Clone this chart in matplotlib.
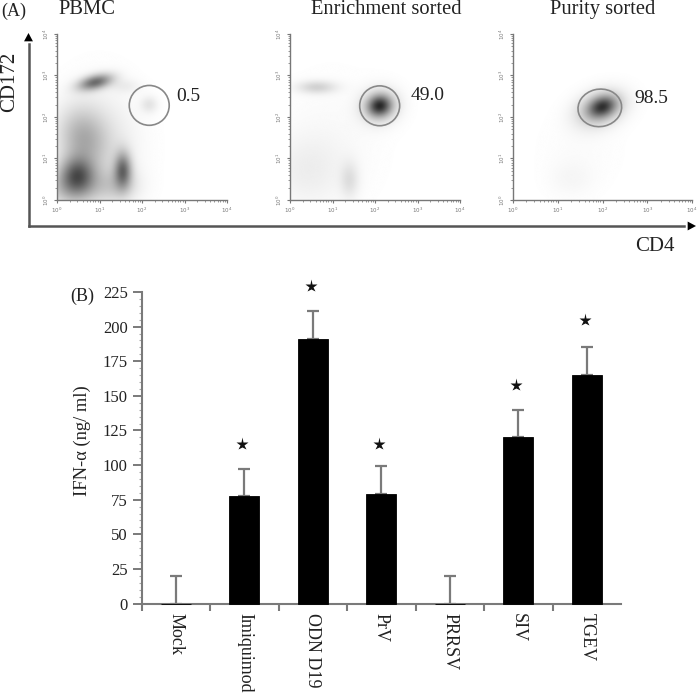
import numpy as np
import matplotlib
matplotlib.use("Agg")
import matplotlib.pyplot as plt
from matplotlib.patches import Ellipse

W, H = 698, 694
plt.rcParams["font.family"] = ["Liberation Serif", "DejaVu Serif"]
GREY = "#7a7a7a"
INK = "#222222"

# bar chart values
categories = ["Mock", "Imiquimod", "ODN D19", "PrV", "PRRSV", "SIV", "TGEV"]
ifn_values = [0, 77.5, 191, 79, 0, 120, 165]
ifn_errors = [20, 20, 20, 20, 20, 20, 20]
star_heights = [None, 115, 229, 115, None, 158, 205]

# flow panels
panel_titles = ["PBMC", "Enrichment sorted", "Purity sorted"]
gate_labels = ["0.5", "49.0", "98.5"]
# populations: x, y (decades), sd x, sd y, tilt, strength
pbmc_blobs = [(0.9, 2.84, 0.28, 0.12, 0.25, 0.55), (0.47, 0.60, 0.28, 0.30, 0, 0.52),
              (1.55, 0.72, 0.14, 0.30, 0, 0.50), (0.60, 1.50, 0.38, 0.50, 0.2, 0.26),
              (0.35, 0.25, 0.45, 0.30, 0, 0.22), (1.40, 0.35, 0.35, 0.28, 0, 0.16),
              (1.00, 1.30, 0.60, 0.90, 0, 0.10), (2.17, 2.30, 0.14, 0.14, 0, 0.10),
              (1.60, 2.75, 0.25, 0.12, 0, 0.06)]
enrich_blobs = [(2.11, 2.27, 0.19, 0.17, 0.3, 0.62), (2.11, 2.27, 0.31, 0.28, 0.3, 0.22),
                (0.63, 2.72, 0.32, 0.11, 0, 0.17), (1.40, 0.48, 0.15, 0.30, 0, 0.11),
                (0.40, 0.70, 0.60, 0.60, 0, 0.06), (1.00, 1.50, 0.80, 1.00, 0, 0.02)]
purity_blobs = [(2.00, 2.25, 0.22, 0.16, 0.45, 0.52), (1.95, 2.20, 0.38, 0.27, 0.45, 0.30),
                (1.30, 0.50, 0.35, 0.30, 0, 0.03), (1.50, 1.20, 0.60, 0.60, 0, 0.015)]
panel_blobs = [pbmc_blobs, enrich_blobs, purity_blobs]
decades = [0, 1, 2, 3, 4]
minor_decades = [d + np.log10(m) for d in decades[:-1] for m in range(2, 10)]


def px_axes(fig, left, top, right, bottom):
    return fig.add_axes([left / W, 1 - bottom / H, (right - left) / W, (bottom - top) / H])


def density(blobs):
    xx, yy = np.meshgrid(np.linspace(0, 4, 400), np.linspace(0, 4, 400))
    z = np.zeros_like(xx)
    for x0, y0, sx, sy, tilt, amp in blobs:
        dx, dy = xx - x0, yy - y0
        u = dx * np.cos(tilt) + dy * np.sin(tilt)
        v = -dx * np.sin(tilt) + dy * np.cos(tilt)
        z += amp * np.exp(-0.5 * ((u / sx) ** 2 + (v / sy) ** 2))
    return np.clip(z, 0, 1)


fig = plt.figure(figsize=(W / 100, H / 100), dpi=100)

# panel A
boxes = [(57, 34, 227, 200), (290, 34, 460, 200), (513, 34, 692, 200)]
gates = [(2.17, 2.28, 0.94, 0.96, 0), (2.11, 2.27, 0.94, 0.96, 0), (1.94, 2.22, 0.98, 0.90, 15)]
for i, box in enumerate(boxes):
    ax = px_axes(fig, *box)
    ax.imshow(density(panel_blobs[i]), extent=(0, 4, 0, 4), origin="lower",
              cmap="gray_r", vmin=0, vmax=1, aspect="auto", interpolation="bilinear")
    gx, gy, gw, gh, ang = gates[i]
    ax.add_patch(Ellipse((gx, gy), gw, gh, angle=ang, fill=False, ec="#888888", lw=1.2))
    for side in ["top", "right"]:
        ax.spines[side].set_visible(False)
    for side in ["left", "bottom"]:
        ax.spines[side].set_color("#777777")
        ax.spines[side].set_linewidth(1.0)
    ax.set_xlim(0, 4)
    ax.set_ylim(0, 4)
    ax.set_xticks(decades)
    ax.set_yticks(decades)
    ax.set_xticks(minor_decades, minor=True)
    ax.set_yticks(minor_decades, minor=True)
    ax.set_xticklabels(["$10^{%d}$" % d for d in decades], fontsize=4, color="#777777")
    ax.set_yticklabels(["$10^{%d}$" % d for d in decades], fontsize=4, color="#777777", rotation=90, va="center")
    ax.tick_params(which="major", length=2.5, width=0.8, color="#777777", pad=1.5)
    ax.tick_params(which="minor", length=1.2, width=0.6, color="#888888")
    ax.patch.set_alpha(0)

# figure level layer in pixels: big arrows and text
over = fig.add_axes([0, 0, 1, 1], zorder=5)
over.set_xlim(0, W)
over.set_ylim(H, 0)
over.axis("off")
over.plot([28.5, 28.5], [226, 44], color="#555555", lw=1.8)
over.plot([28.5, 684], [226, 226], color="#555555", lw=1.8)
over.annotate("", xy=(28.5, 33), xytext=(28.5, 46), arrowprops=dict(arrowstyle="-|>,head_width=0.32,head_length=0.6", color="black", lw=0, shrinkA=0, shrinkB=0))
over.annotate("", xy=(696, 226), xytext=(683, 226), arrowprops=dict(arrowstyle="-|>,head_width=0.32,head_length=0.6", color="black", lw=0, shrinkA=0, shrinkB=0))

TXT = 14.8
over.text(1, 11, "(A)", fontsize=13, va="center", color=INK)
over.text(87, 9, panel_titles[0], fontsize=TXT, ha="center", va="center", color=INK)
over.text(386, 9, panel_titles[1], fontsize=TXT, ha="center", va="center", color=INK)
over.text(603, 9, panel_titles[2], fontsize=TXT, ha="center", va="center", color=INK)
over.text(188, 96, gate_labels[0], fontsize=14, ha="center", va="center", color=INK)
over.text(428, 95, gate_labels[1], fontsize=14, ha="center", va="center", color=INK)
over.text(651, 98, gate_labels[2], fontsize=14, ha="center", va="center", color=INK)
over.text(10, 82, "CD172", fontsize=15, rotation=90, ha="center", va="center", color=INK)
over.text(655, 246, "CD4", fontsize=15, ha="center", va="center", color=INK)
over.text(82, 296, "(B)", fontsize=13, ha="center", va="center", color=INK)
over.text(82, 441, "IFN-α (ng/ ml)", fontsize=13.3, rotation=90, ha="center", va="center", color=INK)

# panel B
bx = px_axes(fig, 141.7, 292, 621, 603.5)
pos = np.arange(len(categories)) + 0.5
bx.bar(pos, ifn_values, width=0.44, color="black", edgecolor="black", linewidth=0.6, zorder=3, clip_on=False)
bx.errorbar(pos, ifn_values, yerr=[[0] * len(pos), ifn_errors], fmt="none", ecolor=GREY,
            elinewidth=1.6, capsize=4.5, capthick=1.6, zorder=2)
for p, s in zip(pos, star_heights):
    if s is not None:
        bx.plot(p - 0.03, s, marker="*", color="#111111", ms=9.5, mec="none", clip_on=False, zorder=4)
bx.set_xlim(0, 7)
bx.set_ylim(0, 225)
for side in ["top", "right"]:
    bx.spines[side].set_visible(False)
for side in ["left", "bottom"]:
    bx.spines[side].set_color(GREY)
    bx.spines[side].set_linewidth(1.5)
bx.set_yticks(np.arange(0, 226, 25))
bx.set_yticks(np.arange(0, 226, 5), minor=True)
bx.set_xticks(np.arange(0, 7))
bx.set_xticklabels([])
bx.set_xticks(pos, minor=True)
bx.set_xticklabels(categories, minor=True, rotation=270, fontsize=13, color=INK, ha="center", va="top")
bx.tick_params(axis="x", which="minor", length=0, pad=6.5)
bx.tick_params(axis="x", which="major", length=5, width=1.5, color=GREY)
bx.tick_params(axis="y", which="major", length=6.5, width=1.4, color=GREY, labelsize=12, labelcolor=INK, pad=3.5)
bx.tick_params(axis="y", which="minor", length=2.5, width=0.8, color="#aaaaaa")
bx.patch.set_alpha(0)

fig.savefig("out.png", dpi=100)
